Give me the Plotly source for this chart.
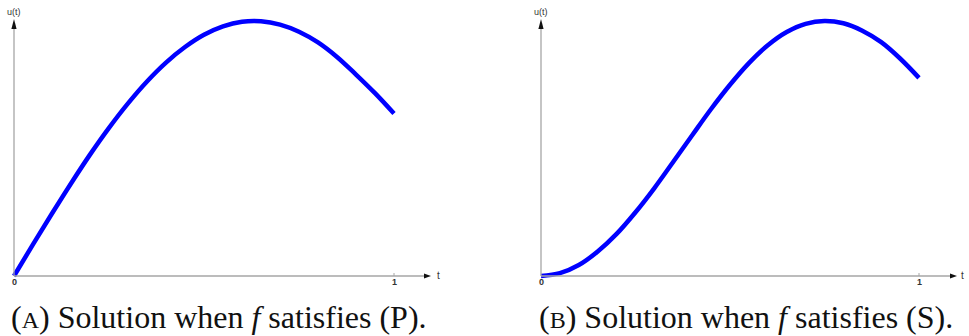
import plotly.graph_objects as go

t_vals = [0.0, 0.05, 0.1, 0.15, 0.2, 0.25, 0.3, 0.35, 0.4, 0.45, 0.5,
          0.55, 0.6, 0.65, 0.7, 0.75, 0.8, 0.85, 0.9, 0.95, 1.0]
u_P = [0.0, 0.124, 0.245, 0.363, 0.476, 0.581, 0.677, 0.763, 0.837, 0.898, 0.946,
       0.979, 0.997, 0.999, 0.986, 0.958, 0.916, 0.859, 0.790, 0.717, 0.637]
u_S = [0.0, 0.011, 0.043, 0.096, 0.165, 0.250, 0.345, 0.448, 0.552, 0.655, 0.750,
       0.835, 0.905, 0.957, 0.989, 1.0, 0.991, 0.962, 0.917, 0.853, 0.777]

captions = ["(<span style='font-size:24px'>A</span>) Solution when <i>f</i> satisfies (P).",
            "(<span style='font-size:24px'>B</span>) Solution when <i>f</i> satisfies (S)."]
axis_labels = ["u(t)", "t"]
tick_labels = ["0", "1"]

W, H = 969, 336
BLUE = "#0000ff"
GRAY = "#a6a6a6"

def px(x):
    return x / W

def py(y):
    return 1 - y / H

fig = go.Figure()
fig.add_trace(go.Scatter(x=t_vals, y=u_P, mode="lines", line=dict(color=BLUE, width=4.5, shape="spline"),
                         xaxis="x", yaxis="y", showlegend=False, hoverinfo="skip"))
fig.add_trace(go.Scatter(x=t_vals, y=u_S, mode="lines", line=dict(color=BLUE, width=4.5, shape="spline"),
                         xaxis="x2", yaxis="y2", showlegend=False, hoverinfo="skip"))

# reference-pixel geometry
panels = [dict(x0=14, x1=394, xend=424, tip=431, tlab=438, d0=0, d1=484),
          dict(x0=541, x1=919, xend=950, tip=957, tlab=962, d0=485, d1=969)]
y0px, y1px = 276, 21
ppu_y = y0px - y1px

layout_axes = {}
for i, p in enumerate(panels):
    ppu_x = p["x1"] - p["x0"]
    xr = [(p["d0"] - p["x0"]) / ppu_x, (p["d1"] - p["x0"]) / ppu_x]
    yr = [(y0px - H) / ppu_y, y0px / ppu_y]
    sx = "" if i == 0 else "2"
    layout_axes["xaxis" + sx] = dict(domain=[px(p["d0"]), px(p["d1"])], range=xr,
                                     visible=False, fixedrange=True, anchor="y" + sx)
    layout_axes["yaxis" + sx] = dict(domain=[0, 1], range=yr, visible=False, fixedrange=True,
                                     anchor="x" + sx)

fig.update_layout(width=W, height=H, margin=dict(l=0, r=0, t=0, b=0),
                  plot_bgcolor="white", paper_bgcolor="white", **layout_axes)

shapes = []
annotations = []
for i, p in enumerate(panels):
    x0 = p["x0"]
    shapes.append(dict(type="line", xref="paper", yref="paper", x0=px(x0), x1=px(x0),
                       y0=py(y0px), y1=py(28), line=dict(color=GRAY, width=1.3)))
    shapes.append(dict(type="path", xref="paper", yref="paper",
                       path=f"M {px(x0)} {py(19)} L {px(x0-2.6)} {py(29)} L {px(x0+2.6)} {py(29)} Z",
                       fillcolor="#111111", line=dict(width=0)))
    shapes.append(dict(type="line", xref="paper", yref="paper", x0=px(x0), x1=px(p["xend"]),
                       y0=py(y0px), y1=py(y0px), line=dict(color=GRAY, width=1.3)))
    tip = p["tip"]
    shapes.append(dict(type="path", xref="paper", yref="paper",
                       path=f"M {px(tip)} {py(y0px)} L {px(p['xend'])} {py(y0px-2.6)} L {px(p['xend'])} {py(y0px+2.6)} Z",
                       fillcolor="#111111", line=dict(width=0)))
    shapes.append(dict(type="line", xref="paper", yref="paper", x0=px(p["x1"]), x1=px(p["x1"]),
                       y0=py(y0px), y1=py(y0px - 3), line=dict(color=GRAY, width=1)))
    f = dict(family="Liberation Sans, Arial", size=9, color="#333333")
    common = dict(xref="paper", yref="paper", showarrow=False, yanchor="middle", xanchor="center")
    annotations += [
        dict(x=px(x0), y=py(12), text=axis_labels[0], font=f, **common),
        dict(x=px(p["tlab"]), y=py(y0px - 1), text=axis_labels[1],
             font=dict(family="Liberation Sans, Arial", size=10, color="#333333"), **common),
        dict(x=px(x0), y=py(282), text="<b>" + tick_labels[0] + "</b>", font=f, **common),
        dict(x=px(p["x1"]), y=py(282), text="<b>" + tick_labels[1] + "</b>", font=f, **common),
    ]

cf = dict(family="Liberation Serif, DejaVu Serif", size=32, color="#111111")
annotations.append(dict(x=px(9), y=py(317), xref="paper", yref="paper", text=captions[0], showarrow=False,
                        xanchor="left", yanchor="middle", font=cf))
annotations.append(dict(x=px(537), y=py(317), xref="paper", yref="paper", text=captions[1], showarrow=False,
                        xanchor="left", yanchor="middle", font=cf))

fig.update_layout(shapes=shapes, annotations=annotations)
fig.write_html("out.html", config={"displayModeBar": False, "staticPlot": True},
               post_script="document.body.style.margin='0';document.body.style.overflow='hidden';")
